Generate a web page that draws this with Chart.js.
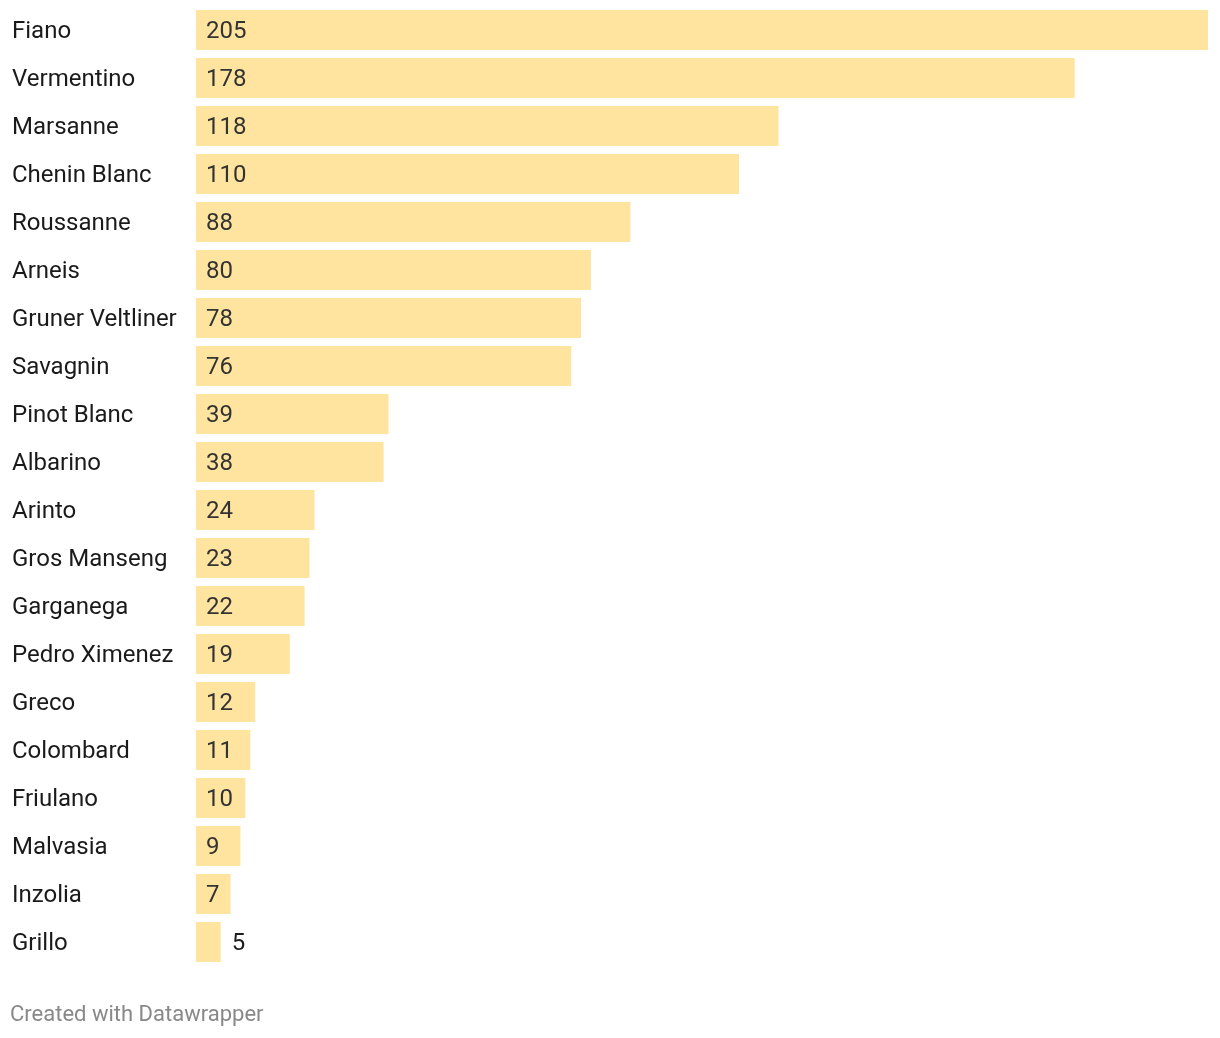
<!DOCTYPE html>
<html>
<head>
<meta charset="utf-8">
<script src="https://cdn.jsdelivr.net/npm/chart.js@4"></script>
<style>
  html, body { margin: 0; padding: 0; background: #fff; }
  #wrap { width: 1220px; height: 1038px; position: relative; }
</style>
</head>
<body>
<div id="wrap"><canvas id="myChart"></canvas></div>
<script>
// grapes and counts
const grapes = ['Fiano', 'Vermentino', 'Marsanne', 'Chenin Blanc', 'Roussanne', 'Arneis',
  'Gruner Veltliner', 'Savagnin', 'Pinot Blanc', 'Albarino', 'Arinto', 'Gros Manseng',
  'Garganega', 'Pedro Ximenez', 'Greco', 'Colombard', 'Friulano', 'Malvasia', 'Inzolia', 'Grillo'];
const counts = [205, 178, 118, 110, 88, 80, 78, 76, 39, 38, 24, 23, 22, 19, 12, 11, 10, 9, 7, 5];

const footer = 'Created with Datawrapper';

// value labels, inside the bar when it fits
const valueLabels = {
  id: 'valueLabels',
  afterDatasetsDraw(chart) {
    const ctx = chart.ctx;
    const meta = chart.getDatasetMeta(0);
    ctx.save();
    ctx.font = '24px Roboto';
    ctx.textBaseline = 'middle';
    ctx.textAlign = 'left';
    meta.data.forEach(function(bar, i) {
      const txt = String(counts[i]);
      const w = ctx.measureText(txt).width;
      const barW = bar.x - bar.base;
      if (barW < w + 20) {
        ctx.fillStyle = '#1d1d1d';
        ctx.fillText(txt, bar.x + 11, bar.y + 2);
      } else {
        ctx.fillStyle = '#333333';
        ctx.fillText(txt, bar.base + 10, bar.y + 2);
      }
    });
    ctx.restore();
  }
};

const footerText = {
  id: 'footerText',
  afterDraw(chart) {
    const ctx = chart.ctx;
    ctx.save();
    ctx.font = '22px Roboto';
    ctx.fillStyle = '#888888';
    ctx.textBaseline = 'middle';
    ctx.textAlign = 'left';
    ctx.fillText(footer, 10, 1015);
    ctx.restore();
  }
};

const data = {
  labels: grapes,
  datasets: [{
    data: counts,
    backgroundColor: '#fee49e',
    borderWidth: 0,
    categoryPercentage: 1,
    barPercentage: 40 / 48
  }]
};

const config = {
  type: 'bar',
  data: data,
  options: {
    indexAxis: 'y',
    responsive: true,
    maintainAspectRatio: false,
    animation: false,
    layout: { padding: { left: 12, right: 12, top: 6, bottom: 72 } },
    plugins: {
      legend: { display: false },
      tooltip: { enabled: false }
    },
    scales: {
      x: { display: false, min: 0, max: 205 },
      y: {
        grid: { display: false, drawTicks: false },
        border: { display: false },
        ticks: {
          crossAlign: 'far',
          padding: 0,
          labelOffset: 2,
          color: '#1a1a1a',
          font: { family: 'Roboto', size: 24 }
        },
        afterFit(axis) {
          axis.width = 184;
          axis.paddingTop = 0;
          axis.paddingBottom = 0;
        }
      }
    }
  },
  plugins: [valueLabels, footerText]
};

const myChart = new Chart(document.getElementById('myChart'), config);
</script>
</body>
</html>
